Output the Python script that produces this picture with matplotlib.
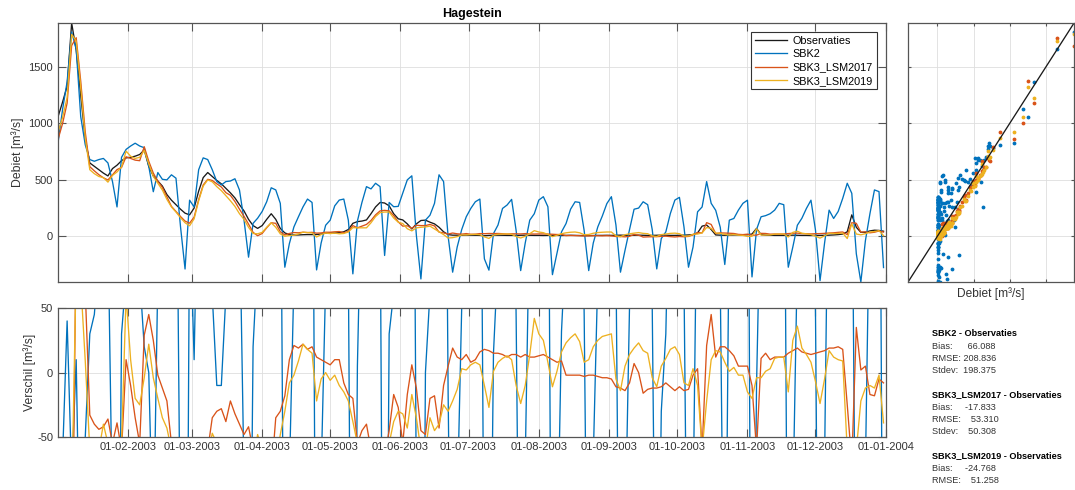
import matplotlib
matplotlib.use('Agg')
import matplotlib.pyplot as plt
import matplotlib.dates as mdates
import numpy as np

plt.rcParams['font.family'] = ['Liberation Sans', 'DejaVu Sans']
plt.rcParams['axes.unicode_minus'] = False

# Hagestein, afvoer 2003 -- every second day from 01-01-2003
start = np.datetime64('2003-01-01')
day_no = np.arange(0, 365, 2)
dates = start + day_no.astype('timedelta64[D]')

obs = np.array([
    1060, 1190, 1330, 1890, 1650, 1250, 860, 650, 620, 590,
    560, 535, 600, 630, 670, 695, 700, 710, 725, 765,
    620, 535, 490, 445, 370, 320, 280, 240, 205, 190,
    250, 400, 520, 565, 530, 495, 465, 425, 385, 340,
    280, 225, 150, 95, 70, 95, 150, 200, 150, 70,
    30, 15, 12, 12, 14, 15, 15, 16, 20, 28,
    30, 30, 32, 40, 60, 115, 130, 135, 145, 200,
    260, 300, 295, 270, 200, 155, 145, 110, 65, 110,
    140, 143, 125, 110, 80, 40, 15, 10, 10, 9,
    10, 10, 9, 8, 5, 8, 9, 10, 9, 8,
    8, 8, 9, 10, 9, 8, 8, 7, 8, 8,
    8, 7, 8, 9, 8, 7, 6, 6, 7, 8,
    8, 9, 8, 9, 10, 9, 8, 9, 10, 9,
    8, 8, 9, 10, 9, 8, 8, 9, 10, 12,
    15, 30, 90, 100, 60, 12, 10, 9, 10, 12,
    12, 10, 14, 20, 70, 15, 10, 9, 8, 8,
    8, 9, 10, 9, 8, 8, 7, 8, 8, 9,
    10, 12, 15, 20, 40, 190, 80, 35, 35, 48,
    54, 52, 45])

sbk2 = np.array([
    830, 1125, 1370, 1810, 1660, 1060, 810, 680, 665, 680,
    690, 650, 485, 260, 700, 770, 800, 825, 800, 785,
    620, 395, 565, 505, 500, 545, 515, 85, -290, 320,
    260, 590, 695, 680, 590, 485, 455, 485, 490, 510,
    410, 145, -185, 115, 160, 220, 306, 430, 411, 292,
    -274, -65, 83, 173, 260, 330, 300, -298, -60, 98,
    143, 270, 321, 330, 143, -333, 135, 300, 440, 420,
    470, 440, -170, 300, 262, 265, 381, 500, 536, 9,
    -378, 143, 187, 292, 545, 485, 0, -318, -95, 60,
    173, 247, 306, 330, -200, -300, 24, 100, 247, 277,
    327, 50, -304, -60, 143, 200, 321, 351, 262, -340,
    -150, 39, 113, 240, 306, 300, 50, -304, -60, 83,
    180, 290, 351, 100, -318, -125, 60, 240, 250, 306,
    280, 60, -289, -20, 39, 202, 321, 345, 83, -274,
    -95, 217, 260, 485, 292, 230, 80, -250, 143, 158,
    232, 292, 320, -360, 60, 173, 183, 200, 232, 292,
    280, -274, -95, 98, 160, 247, 320, 54, -393, -60,
    232, 158, 220, 336, 470, 381, -155, -405, -40, 200,
    411, 396, -277])

# verschil model - observaties
d_lsm2017 = np.array([
    -200, -190, -150, -200, 110, 125, 63, -33, -40, -44,
    -42, -36, -55, -39, -60, 10, -10, -35, -55, 29,
    45, 25, -2, -12, -22, -55, -60, -65, -70, -74,
    -80, -75, -65, -60, -35, -30, -28, -38, -22, -32,
    -40, -48, -42, -60, -65, -70, -75, -80, -35, -30,
    -18, 10, 21, 19, 22, 18, 20, 12, 10, 8,
    6, 10, 10, -8, -17, -20, -55, -45, -40, -60,
    -70, -75, -65, -45, -17, -27, -55, -17, 6, -12,
    -45, -48, -20, -18, -43, -10, 5, 19, 12, 10,
    14, 8, 10, 16, 18, 17, 15, 15, 14, 12,
    14, 14, 12, 14, 12, 12, 13, 14, 12, 10,
    8, 9, -2, -2, -2, -2, -3, -2, -2, -3,
    -4, -4, -5, -11, -12, -14, -8, 7, 0, -16,
    -13, -12, -12, -11, -8, -11, -14, -11, -14, -13,
    -2, 3, -60, 21, 45, 12, 20, 20, 17, 13,
    5, 5, 5, -10, -60, 11, 15, 10, 12, 12,
    12, 15, 17, 19, 16, 15, 14, 15, 16, 17,
    19, 19, 20, 18, -25, -70, 35, 2, 5, -17,
    -18, -5, -8])

d_lsm2019 = np.array([
    -135, -137, -100, -100, 80, 70, 9, -60, -65, -60,
    -40, -55, -60, -60, -55, 60, 10, -20, -25, -4,
    22, -4, -20, -35, -43, -60, -65, -75, -85, -97,
    -95, -85, -75, -65, -47, -55, -60, -65, -70, -75,
    -80, -75, -70, -70, -48, -60, -70, -80, -70, -48,
    -30, -8, -2, 9, 22, 18, 15, -22, -5, 0,
    -6, -2, -10, -15, -22, -38, -55, -60, -70, -80,
    -85, -90, -80, -55, -38, -30, -32, -43, -17, -35,
    -60, -60, -35, -45, -40, -25, -30, -22, -13, 3,
    2, 6, 8, 6, -10, -27, 1, 8, 11, 13,
    10, -10, -24, -10, 14, 42, 30, 25, 8, -11,
    1, 16, 23, 27, 30, 24, 8, 10, 20, 25,
    28, 29, 30, -5, -14, 5, 14, 19, 23, 17,
    15, -4, -11, 5, 11, 18, 20, 14, -8, -10,
    3, -10, -60, -22, 10, 17, 16, 8, 1, 4,
    -2, -2, -15, -20, -4, -4, 1, 3, 11, 12,
    12, -15, 25, 36, 19, 14, 8, -7, -24, -5,
    17, 12, 10, 9, -60, -80, -60, -22, -12, -10,
    -12, -2, -39])

lsm2017 = obs + d_lsm2017
lsm2019 = obs + d_lsm2019

stats = [
    ('SBK2 - Observaties', ['Bias:      66.088', 'RMSE: 208.836', 'Stdev:  198.375']),
    ('SBK3_LSM2017 - Observaties', ['Bias:     -17.833', 'RMSE:    53.310', 'Stdev:    50.308']),
    ('SBK3_LSM2019 - Observaties', ['Bias:     -24.768', 'RMSE:    51.258']),
]

c_obs = '#1a1a1a'
c_sbk2 = '#0072BD'
c_2017 = '#D95319'
c_2019 = '#EDB120'
lw = 0.95
txt = '#333333'

months = np.arange(np.datetime64('2003-02'), np.datetime64('2004-02'),
                   np.timedelta64(1, 'M')).astype('datetime64[D]')
t0, t1 = np.datetime64('2003-01-01'), np.datetime64('2004-01-01')
lo = min(obs.min(), sbk2.min(), lsm2017.min(), lsm2019.min())
hi = max(obs.max(), sbk2.max(), lsm2017.max(), lsm2019.max())


def matlab_axes(ax, ticklen):
    ax.grid(True, color='#dedede', lw=0.6)
    ax.set_axisbelow(True)
    ax.tick_params(direction='in', length=ticklen, width=0.8, color='#555555',
                   labelsize=8, labelcolor=txt, top=True, right=True)
    for s in ax.spines.values():
        s.set_color('#555555')
        s.set_linewidth(0.9)


fig = plt.figure(figsize=(10.75, 4.9), dpi=100)
ax_ts = fig.add_axes([0.054, 0.4245, 0.770, 0.5285])
ax_dif = fig.add_axes([0.054, 0.108, 0.770, 0.2633])
ax_sc = fig.add_axes([0.8447, 0.4245, 0.1544, 0.5285])

# tijdreeks
ax_ts.plot(dates, obs, color=c_obs, lw=lw, label='Observaties')
ax_ts.plot(dates, sbk2, color=c_sbk2, lw=lw, label='SBK2')
ax_ts.plot(dates, lsm2017, color=c_2017, lw=lw, label='SBK3_LSM2017')
ax_ts.plot(dates, lsm2019, color=c_2019, lw=lw, label='SBK3_LSM2019')
ax_ts.set_xlim(t0, t1)
ax_ts.set_ylim(lo, hi)
ax_ts.set_xticks(months)
ax_ts.set_yticks([0, 500, 1000, 1500])
matlab_axes(ax_ts, 6)
ax_ts.tick_params(labelbottom=False)
ax_ts.set_ylabel('Debiet [m³/s]', fontsize=8.8, color=txt, labelpad=3)
ax_ts.set_title('Hagestein', fontsize=9, fontweight='bold', pad=4)
leg = ax_ts.legend(loc='upper right', fontsize=7.8, fancybox=False, framealpha=1,
                   handlelength=3.0, borderpad=0.35, labelspacing=0.3,
                   handletextpad=0.5, borderaxespad=0,
                   bbox_to_anchor=(0.989, 0.965))
leg.get_frame().set_edgecolor('#333333')
leg.get_frame().set_linewidth(0.8)

# verschil
ax_dif.plot(dates, sbk2 - obs, color=c_sbk2, lw=lw)
ax_dif.plot(dates, lsm2017 - obs, color=c_2017, lw=lw)
ax_dif.plot(dates, lsm2019 - obs, color=c_2019, lw=lw)
ax_dif.set_xlim(t0, t1)
ax_dif.set_ylim(-50, 50)
ax_dif.set_yticks([-50, 0, 50])
ax_dif.set_xticks(months)
ax_dif.xaxis.set_major_formatter(mdates.DateFormatter('%d-%m-%Y'))
matlab_axes(ax_dif, 6)
ax_dif.set_ylabel('Verschil [m³/s]', fontsize=8.8, color=txt, labelpad=0.5)

# scatter model vs observatie
ax_sc.plot(obs, sbk2, '.', color=c_sbk2, ms=3.5)
ax_sc.plot(obs, lsm2017, '.', color=c_2017, ms=3.5)
ax_sc.plot(obs, lsm2019, '.', color=c_2019, ms=3.5)
ax_sc.plot([lo, hi], [lo, hi], color=c_obs, lw=lw)
ax_sc.set_xlim(lo, hi)
ax_sc.set_ylim(lo, hi)
ax_sc.set_xticks([0, 500, 1000, 1500])
ax_sc.set_yticks([0, 500, 1000, 1500])
matlab_axes(ax_sc, 2)
ax_sc.tick_params(labelbottom=False, labelleft=False)
ax_sc.set_xlabel('Debiet [m³/s]', fontsize=8.6, color=txt, labelpad=4)

# statistiek
y = 1 - 334 / 490
step = 12.2 / 490
for head, lines in stats:
    fig.text(0.867, y, head, fontsize=6.6, fontweight='bold', va='center')
    for i, line in enumerate(lines):
        fig.text(0.867, y - (i + 1) * step, line, fontsize=6.6, va='center',
                 color=txt)
    y -= 5 * step

fig.savefig('out.png', dpi=100)
